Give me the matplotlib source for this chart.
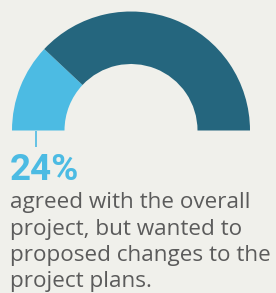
import matplotlib
matplotlib.use("Agg")
import matplotlib.pyplot as plt
from matplotlib.patches import Wedge

# data
categories = ["Agreed, wanted changes", "Other"]
values = [24, 76]
colors = ["#4cbbe3", "#25667e"]
headline = "24%"
body_lines = ["agreed with the overall", "project, but wanted to",
              "proposed changes to the", "project plans."]

BG = "#f0f0eb"
W, H = 276, 293
fig = plt.figure(figsize=(W / 100, H / 100), dpi=100, facecolor=BG)
ax = fig.add_axes([0, 0, 1, 1])
ax.set_facecolor(BG)
ax.set_xlim(0, W)
ax.set_ylim(H, 0)
ax.set_aspect("equal")
ax.axis("off")

cx, cy, r_out, r_in = 131, 130.5, 119, 66.5
total = sum(values)
start = 180.0
for v, c in zip(values, colors):
    span = 180.0 * v / total
    ax.add_patch(Wedge((cx, cy), r_out, start, start + span, width=r_out - r_in,
                       facecolor=c, edgecolor="none"))
    start += span

# leader line
ax.plot([36, 36], [130.5, 146.5], color=colors[0], lw=1.2, solid_capstyle="butt", zorder=5)

ax.text(10, 180, headline, color=colors[0], fontsize=26.5, fontweight="bold",
        family=["Roboto", "DejaVu Sans"], ha="left", va="baseline")
y0, dy = 208, 26.5
for i, line in enumerate(body_lines):
    ax.text(10.5, y0 + i * dy, line, color="#5b5b5b", fontsize=16.2,
            family=["Open Sans", "DejaVu Sans"], ha="left", va="baseline")

fig.savefig("out.png", dpi=100, facecolor=BG)
